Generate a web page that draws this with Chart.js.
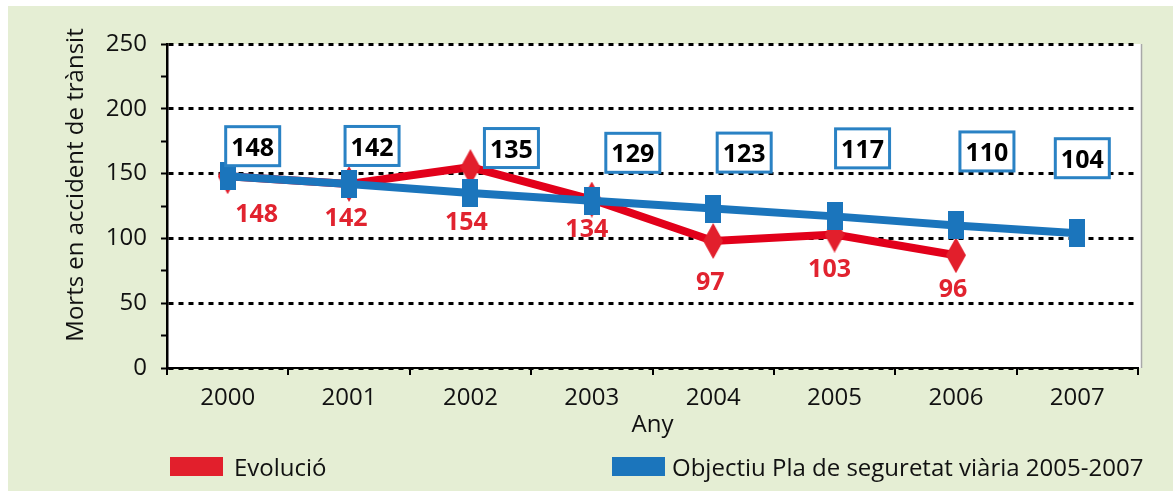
<!DOCTYPE html>
<html><head><meta charset="utf-8">
<script src="https://cdn.jsdelivr.net/npm/chart.js@4.4.1/dist/chart.umd.min.js"></script>
<style>
html,body{margin:0;padding:0;background:#fff;}
#wrap{position:relative;width:1173px;height:491px;overflow:hidden;}
#bg{position:absolute;left:8px;top:6px;right:0;bottom:0;background:#e5eed4;}
canvas{position:absolute;left:0;top:0;}
</style></head><body>
<div id="wrap"><div id="bg"></div><canvas id="c" width="1173" height="491"></canvas></div>
<script>
// ---- data ----
const years = ['2000','2001','2002','2003','2004','2005','2006','2007'];
const evolucio = [148, 142, 155, 130, 98, 103, 87];
const evolucioLabels = ['148','142','154','134','97','103','96'];
const objectiu = [148, 142, 135, 129, 123, 117, 110, 104];
const objectiuLabels = ['148','142','135','129','123','117','110','104'];
const yTickValues = [0, 50, 100, 150, 200, 250];
const seriesNames = ['Evolució', 'Objectiu Pla de seguretat viària 2005-2007'];
const xTitle = 'Any';
const yTitle = 'Morts en accident de trànsit';

// ---- styles ----
const RED = '#e2001a', RED_MARK = '#e21f2c', RED_TEXT = '#e1232f';
const BLUE = '#1b75bc', BOX_BORDER = '#2a82c4';
const FONT = "'Open Sans', sans-serif";
const TXT = 24;
// label offsets in pixels from each point (style, not data)
const blueLabelOffsets = [[25,-30],[23,-38],[41,-45],[41,-48],[31,-56],[28,-68],[31,-74],[5,-75]];
const redLabelOffsets = [[29,37],[-3,33],[-4,54],[-5,29],[-3,40],[-5,34],[-3,33]];

function shape(w, h, color, kind) {
  const c = document.createElement('canvas');
  c.width = w; c.height = h;
  const g = c.getContext('2d');
  g.fillStyle = color;
  if (kind === 'diamond') {
    g.beginPath(); g.moveTo(w/2,0); g.lineTo(w,h/2); g.lineTo(w/2,h); g.lineTo(0,h/2); g.closePath(); g.fill();
  } else {
    g.fillRect(0,0,w,h);
  }
  return c;
}
const diamondImg = shape(20, 36, RED_MARK, 'diamond');
const rectImg = shape(16, 28, BLUE, 'rect');

const decor = {
  id: 'decor',
  beforeDraw(chart) {
    const {ctx, chartArea: a} = chart;
    ctx.save();
    ctx.fillStyle = '#fff';
    ctx.fillRect(a.left, a.top, a.right - a.left + 3, a.bottom - a.top);
    ctx.strokeStyle = '#a8a8a8';
    ctx.lineWidth = 1.5;
    ctx.beginPath(); ctx.moveTo(a.right + 3.5, a.top); ctx.lineTo(a.right + 3.5, a.bottom); ctx.stroke();
    // y axis title (placed slightly above the axis centre, as in the original)
    ctx.translate(76.5, (a.top + a.bottom) / 2 - 21);
    ctx.rotate(-Math.PI / 2);
    ctx.font = TXT + "px " + FONT;
    ctx.fillStyle = '#111';
    ctx.textAlign = 'center';
    ctx.textBaseline = 'middle';
    ctx.fillText(yTitle, 0, 0);
    ctx.restore();
  },
  afterDatasetsDraw(chart) {
    const ctx = chart.ctx;
    ctx.save();
    ctx.textAlign = 'center';
    ctx.textBaseline = 'middle';
    // blue boxed labels
    const mb = chart.getDatasetMeta(1);
    ctx.font = "bold 25px " + FONT;
    mb.data.forEach((p, i) => {
      const cx = p.x + blueLabelOffsets[i][0], cy = p.y + blueLabelOffsets[i][1];
      const w = 54, h = 39;
      ctx.fillStyle = '#fff';
      ctx.fillRect(cx - w/2, cy - h/2, w, h);
      ctx.strokeStyle = BOX_BORDER; ctx.lineWidth = 3;
      ctx.strokeRect(cx - w/2, cy - h/2, w, h);
      ctx.fillStyle = '#000';
      ctx.fillText(objectiuLabels[i], cx, cy + 2.5);
    });
    // red labels
    const mr = chart.getDatasetMeta(0);
    ctx.fillStyle = RED_TEXT;
    mr.data.forEach((p, i) => {
      ctx.fillText(evolucioLabels[i], p.x + redLabelOffsets[i][0], p.y + redLabelOffsets[i][1] + 1.7);
    });
    // legend
    ctx.textAlign = 'left';
    ctx.textBaseline = 'alphabetic';
    ctx.font = TXT + "px " + FONT;
    ctx.fillStyle = RED_MARK; ctx.fillRect(170, 457, 53, 19);
    ctx.fillStyle = BLUE; ctx.fillRect(612, 457, 53, 19);
    ctx.fillStyle = '#111';
    ctx.fillText(seriesNames[0], 234, 476);
    ctx.fillText(seriesNames[1], 672, 476);
    ctx.restore();
  }
};

Chart.defaults.font.family = FONT;
Chart.defaults.color = '#111';

new Chart(document.getElementById('c'), {
  type: 'line',
  data: {
    labels: years,
    datasets: [
      { label: seriesNames[0], data: evolucio, borderColor: RED, backgroundColor: RED_MARK,
        borderWidth: 8, pointStyle: diamondImg, pointRadius: 10, tension: 0, order: 1, fill: false },
      { label: seriesNames[1], data: objectiu, borderColor: BLUE, backgroundColor: BLUE,
        borderWidth: 8, pointStyle: rectImg, pointRadius: 10, tension: 0, order: 0, fill: false }
    ]
  },
  options: {
    responsive: false,
    animation: false,
    devicePixelRatio: 1,
    layout: { padding: { left: 0, right: 35, top: 44, bottom: 51 } },
    plugins: { legend: { display: false }, tooltip: { enabled: false } },
    scales: {
      x: {
        offset: true,
        afterFit(s) { s.height = 72; },
        grid: { offset: true, drawOnChartArea: false, drawTicks: true, tickLength: 7,
                color: '#000', tickColor: '#000', lineWidth: 2, tickWidth: 2 },
        border: { display: true, color: '#000', width: 2 },
        ticks: { font: { size: TXT }, color: '#111', padding: 9, maxRotation: 0, autoSkip: false },
        title: { display: true, text: xTitle, font: { size: TXT }, color: '#111', padding: { top: 0, bottom: 0 } }
      },
      y: {
        min: 0, max: 250,
        afterFit(s) { s.width = 167; },
        ticks: { stepSize: 25, autoSkip: false, padding: 14, font: { size: TXT }, color: '#111',
                 callback: (v) => yTickValues.includes(v) ? String(v) : '' },
        grid: { drawTicks: true, tickLength: 6, lineWidth: 3, tickWidth: 2, tickColor: '#000',
                color: (c) => (c.tick && yTickValues.includes(c.tick.value)) ? '#000' : 'rgba(0,0,0,0)' },
        border: { display: true, color: '#000', width: 2.5, dash: [5, 5] },
        title: { display: false }
      }
    }
  },
  plugins: [decor]
});
</script>
</body></html>
